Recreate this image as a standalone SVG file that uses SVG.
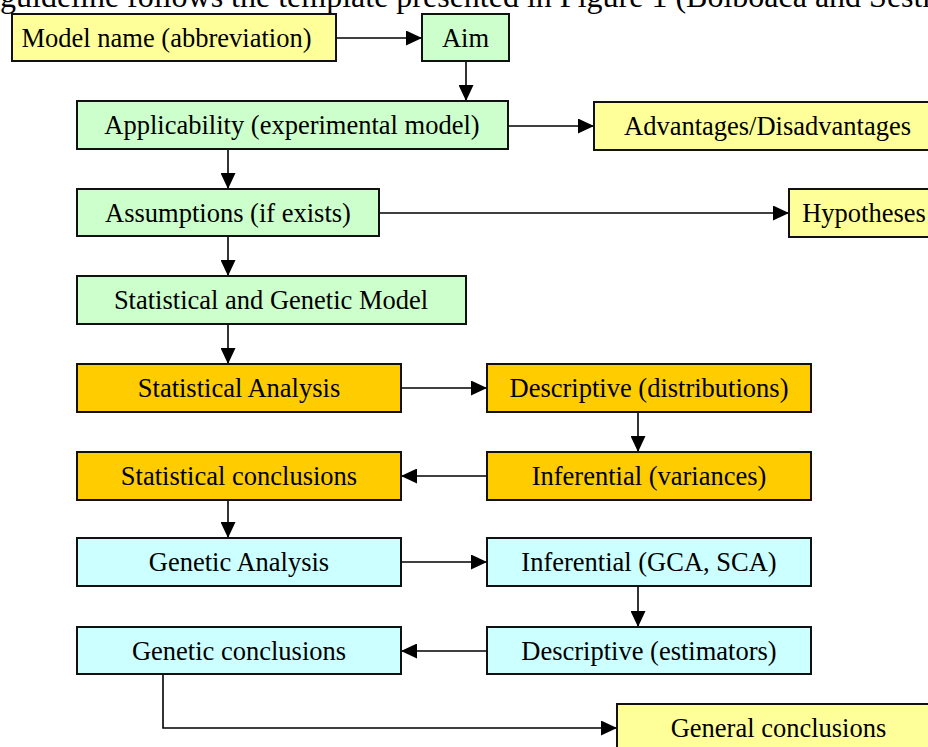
<svg xmlns="http://www.w3.org/2000/svg" width="928" height="747" viewBox="0 0 928 747">
<style>
  rect { stroke: #111; stroke-width: 2; }
  .y { fill: #FFFF99; }
  .g { fill: #CCFFCC; }
  .o { fill: #FFCC00; }
  .c { fill: #CCFFFF; }
  text { font-family: "Liberation Serif", "Times New Roman", serif; font-size: 26.5px; fill: #000; text-anchor: middle; }
  .head { font-size: 32px; text-anchor: start; }
  .conn path { stroke: #000; stroke-width: 1.6; fill: none; marker-end: url(#arr); }
</style>
<defs>
  <marker id="arr" markerUnits="userSpaceOnUse" markerWidth="16" markerHeight="15" refX="16" refY="7.5" orient="auto">
    <path d="M0,0 L16,7.5 L0,15 z" fill="#000"/>
  </marker>
</defs>
<rect width="928" height="747" fill="#fff" style="stroke:none"/>
<text class="head" x="0" y="7">guideline follows the template presented in Figure 1 (Bolboaca and Sestr</text>

<g class="conn">
  <path d="M336,38 H422"/>
  <path d="M466,61 V101"/>
  <path d="M508,126 H594"/>
  <path d="M228,149 V189"/>
  <path d="M379,213 H789"/>
  <path d="M228,236 V276"/>
  <path d="M228,324 V364"/>
  <path d="M401,388 H487"/>
  <path d="M638,412 V452"/>
  <path d="M487,476 H401"/>
  <path d="M228,500 V538"/>
  <path d="M401,562 H487"/>
  <path d="M638,586 V627"/>
  <path d="M487,651 H401"/>
  <path d="M163,674 V728 H617"/>
</g>

<g id="model-name"><rect class="y" x="12" y="14" width="324" height="47"/><text x="166.5" y="46.5">Model name (abbreviation)</text></g>
<g id="aim"><rect class="g" x="422" y="14" width="87" height="47"/><text x="465.5" y="46.5">Aim</text></g>
<g id="applicability"><rect class="g" x="77" y="101" width="431" height="48"/><text x="292" y="134">Applicability (experimental model)</text></g>
<g id="advantages"><rect class="y" x="594" y="102" width="350" height="48"/><text x="767.5" y="135">Advantages/Disadvantages</text></g>
<g id="assumptions"><rect class="g" x="77" y="189" width="302" height="47"/><text x="228" y="221.5">Assumptions (if exists)</text></g>
<g id="hypotheses"><rect class="y" x="789" y="189" width="150" height="48"/><text x="864" y="222">Hypotheses</text></g>
<g id="stat-gen-model"><rect class="g" x="77" y="276" width="389" height="48"/><text x="271" y="309">Statistical and Genetic Model</text></g>
<g id="stat-analysis"><rect class="o" x="77" y="364" width="324" height="48"/><text x="239" y="397">Statistical Analysis</text></g>
<g id="desc-distributions"><rect class="o" x="487" y="364" width="324" height="48"/><text x="649" y="397">Descriptive (distributions)</text></g>
<g id="stat-conclusions"><rect class="o" x="77" y="452" width="324" height="48"/><text x="239" y="485">Statistical conclusions</text></g>
<g id="inf-variances"><rect class="o" x="487" y="452" width="324" height="48"/><text x="649" y="485">Inferential (variances)</text></g>
<g id="gen-analysis"><rect class="c" x="77" y="538" width="324" height="48"/><text x="239" y="571">Genetic Analysis</text></g>
<g id="inf-gca-sca"><rect class="c" x="487" y="538" width="324" height="48"/><text x="649" y="571">Inferential (GCA, SCA)</text></g>
<g id="gen-conclusions"><rect class="c" x="77" y="627" width="324" height="47"/><text x="239" y="659.5">Genetic conclusions</text></g>
<g id="desc-estimators"><rect class="c" x="487" y="627" width="324" height="47"/><text x="649" y="659.5">Descriptive (estimators)</text></g>
<g id="general-conclusions"><rect class="y" x="617" y="704" width="330" height="60"/><text x="778.5" y="737">General conclusions</text></g>
</svg>
